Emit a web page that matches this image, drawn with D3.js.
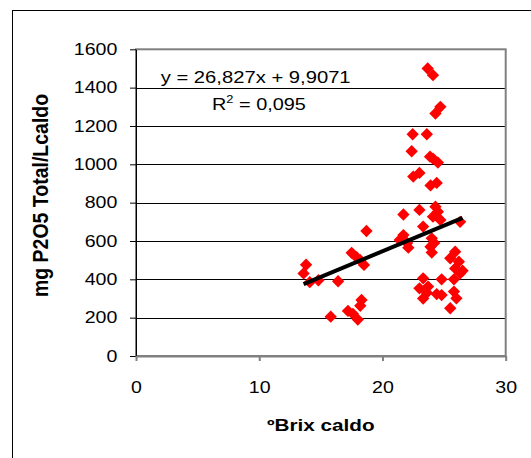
<!DOCTYPE html>
<html>
<head>
<meta charset="utf-8">
<script src="https://cdn.jsdelivr.net/npm/d3@7/dist/d3.min.js"></script>
<style>
  body { margin: 0; background: #fff; }
  svg { display: block; font-family: Arial, "Liberation Sans", sans-serif; }
</style>
</head>
<body>
<div class="d3"></div>
<script>
// ºBrix do caldo x mg P2O5 total por litro de caldo
const brix = [
  13.6, 13.8, 14.1, 14.8, 16.4, 15.8, 17.2, 17.6, 18.0, 18.3, 18.2,
  17.5, 17.9, 18.2, 18.5, 18.7,
  21.4, 21.7, 21.7, 22.0, 22.1, 22.45, 22.37, 22.5, 23.0,
  23.6, 23.86, 24.1, 24.5, 23.9, 24.4,
  23.67, 24.1, 24.7, 24.3,
  23.0, 24.3, 24.5, 24.1, 24.7, 26.3, 23.3,
  24.0, 23.9, 24.0, 24.2,
  25.9, 25.5, 26.2, 25.9, 26.3, 25.8, 26.5,
  24.8, 23.3, 23.0, 23.7, 23.3, 24.4, 24.8, 25.8, 26.0, 25.5, 23.6
];
const p2o5 = [
  431, 476, 385, 395, 390, 205, 235, 220, 190, 292, 262,
  538, 515, 500, 475, 652,
  605, 631, 738, 590, 565, 1157, 1068, 936, 955,
  1157, 1040, 1030, 1009, 890, 903,
  1500, 1465, 1300, 1265,
  762, 779, 753, 727, 710, 700, 675,
  614, 570, 540, 590,
  544, 510, 492, 457, 431, 400, 445,
  400, 405, 353, 362, 300, 323, 318, 336, 301, 249, 330
];

const xTicks = [0, 10, 20, 30];
const yTicks = [0, 200, 400, 600, 800, 1000, 1200, 1400, 1600];

const slope = 26.827;
const intercept = 9.9071;
const equationLabel = 'y = 26,827x + 9,9071';
const r2Value = '0,095';

const xTitle = 'ºBrix caldo';
const yTitle = 'mg P2O5 Total/Lcaldo';

(() => {
  let width = 531;
  let height = 458;
  let pLeft = 136, pRight = 505.7, pTop = 49.3, pBottom = 356;

  let svg = d3
    .select('.d3')
    .append('svg')
    .attr('width', width)
    .attr('height', height);

  // outer chart frame (runs off the picture on the right and bottom)
  svg.append('rect')
    .attr('x', 12.5).attr('y', 10.5)
    .attr('width', 600).attr('height', 600)
    .attr('fill', 'none').attr('stroke', '#000').attr('stroke-width', 1);

  let x = d3.scaleLinear().domain([0, 30]).range([pLeft, pRight]);
  let y = d3.scaleLinear().domain([0, 1600]).range([pBottom, pTop]);

  // gridlines
  svg.append('g')
    .selectAll('line')
    .data(yTicks.slice(1, -1))
    .enter()
    .append('line')
    .attr('x1', pLeft).attr('x2', pRight)
    .attr('y1', d => Math.round(y(d)) + 0.5)
    .attr('y2', d => Math.round(y(d)) + 0.5)
    .attr('stroke', '#000')
    .attr('stroke-width', 1);

  // plot area border
  svg.append('rect')
    .attr('x', pLeft).attr('y', pTop)
    .attr('width', pRight - pLeft).attr('height', pBottom - pTop)
    .attr('fill', 'none').attr('stroke', '#808080').attr('stroke-width', 2);

  let sx = 1.2;

  let yAxis = svg.append('g')
    .attr('transform', `translate(${pLeft},0)`)
    .call(d3.axisLeft(y).tickValues(yTicks).tickFormat(d3.format('d'))
      .tickSize(6).tickSizeOuter(0));
  yAxis.select('.domain').attr('stroke', '#000');
  yAxis.selectAll('line').attr('stroke', '#000');
  yAxis.selectAll('text')
    .attr('font-size', 16.3)
    .attr('font-family', 'Arial, "Liberation Sans", sans-serif')
    .attr('fill', '#000')
    .attr('x', -18.7 / sx)
    .attr('transform', `scale(${sx},1)`);

  let xAxis = svg.append('g')
    .attr('transform', `translate(0,${pBottom})`)
    .call(d3.axisBottom(x).tickValues(xTicks).tickFormat(d3.format('d'))
      .tickSize(5).tickSizeOuter(0));
  xAxis.select('.domain').attr('stroke', '#808080').attr('stroke-width', 2);
  xAxis.selectAll('line').attr('stroke', '#808080').attr('stroke-width', 2);
  xAxis.selectAll('text')
    .attr('font-size', 16.3)
    .attr('font-family', 'Arial, "Liberation Sans", sans-serif')
    .attr('fill', '#000')
    .attr('y', 37.3)
    .attr('dy', 0)
    .attr('transform', `scale(${sx},1)`);

  // points
  let diamond = d3.symbol().type(d3.symbolSquare).size(76);
  svg.append('g')
    .selectAll('path')
    .data(brix.map((b, i) => [b, p2o5[i]]))
    .enter()
    .append('path')
    .attr('d', diamond)
    .attr('fill', '#ff0000')
    .attr('transform', d => `translate(${x(d[0])},${y(d[1])}) rotate(45)`);

  // linear trendline
  let xr = d3.extent(brix);
  svg.append('line')
    .attr('x1', x(xr[0])).attr('y1', y(slope * xr[0] + intercept))
    .attr('x2', x(xr[1])).attr('y2', y(slope * xr[1] + intercept))
    .attr('stroke', '#000')
    .attr('stroke-width', 4);

  // equation labels
  svg.append('text')
    .attr('transform', 'translate(160.7,83.3) scale(1.24,1)')
    .attr('font-size', 16.3)
    .text(equationLabel);

  let r2 = svg.append('text')
    .attr('transform', 'translate(212,110) scale(1.22,1)')
    .attr('font-size', 16.3);
  r2.append('tspan').text('R');
  r2.append('tspan').attr('font-size', 10.5).attr('dy', -7).text('2');
  r2.append('tspan').attr('dy', 7).text(' = ' + r2Value);

  // axis titles
  svg.append('text')
    .attr('transform', 'translate(320.8,431) scale(1.27,1)')
    .attr('text-anchor', 'middle')
    .attr('font-size', 16.3)
    .attr('font-weight', 'bold')
    .text(xTitle);

  svg.append('text')
    .attr('transform', 'translate(48,195.5) scale(1.15,1) rotate(-90)')
    .attr('text-anchor', 'middle')
    .attr('font-size', 19.5)
    .attr('font-weight', 'bold')
    .text(yTitle);
})();
</script>
</body>
</html>
